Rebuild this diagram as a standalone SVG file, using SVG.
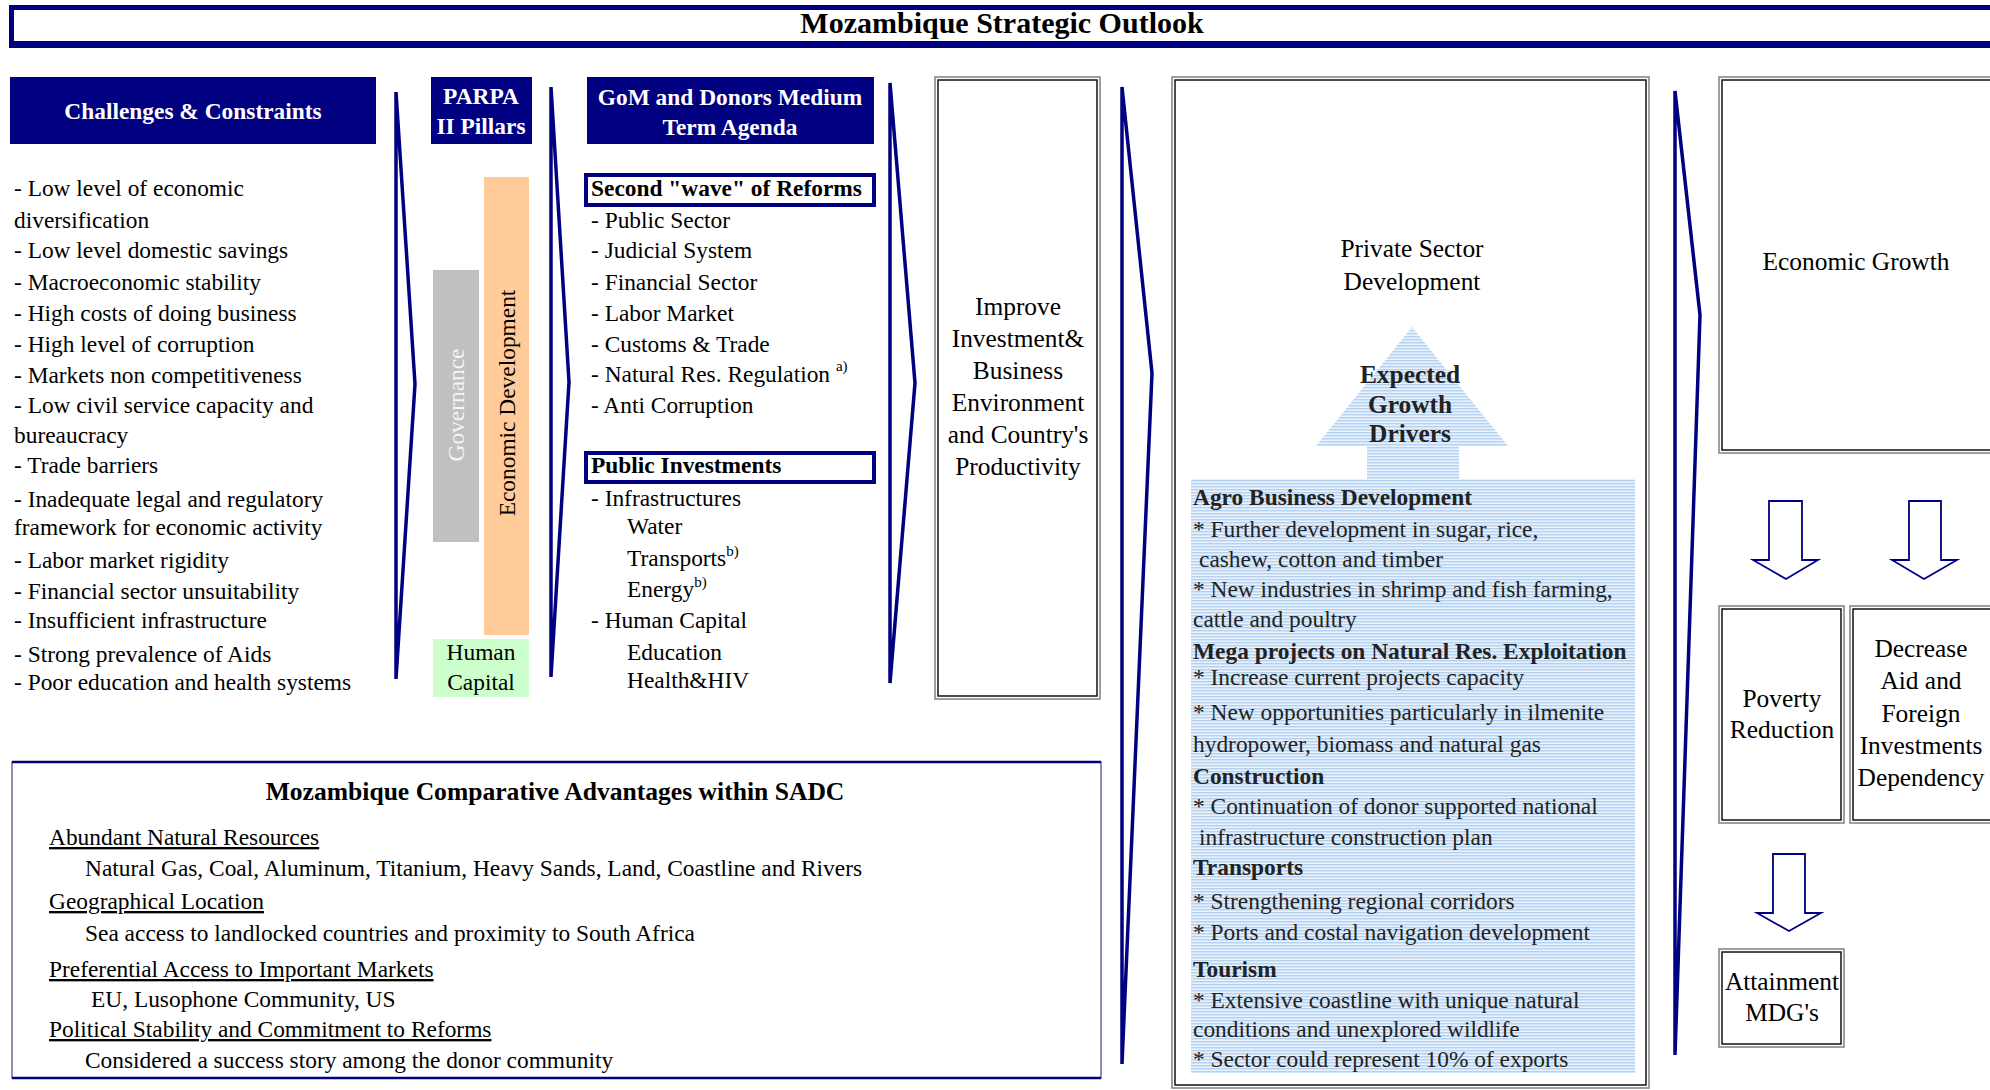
<svg xmlns="http://www.w3.org/2000/svg" width="1990" height="1090" viewBox="0 0 1990 1090">
<style>
.t{font-family:"Liberation Serif","Times New Roman",serif;font-size:23.4px;fill:#000}
.L{font-size:25.4px}
.b{font-weight:bold}
.w{fill:#fff}
.c{text-anchor:middle}
.g{fill:#222}
.u{text-decoration:underline}
.sup{font-size:15px}
.hdr{fill:#000080}
.chev{fill:none;stroke:#000080;stroke-width:3.5;stroke-linejoin:miter;stroke-miterlimit:3}
.bo{fill:#fff;stroke:#808080;stroke-width:1.5}
.bi{fill:none;stroke:#111;stroke-width:1.5}
.sub{fill:#fff;stroke:#000080;stroke-width:4}
.arr{fill:#fff;stroke:#000080;stroke-width:1.8;stroke-linejoin:miter}
</style>
<defs>
<pattern id="stripes" width="3" height="3" patternUnits="userSpaceOnUse">
<rect width="3" height="3" fill="#E9F2FC"/>
<rect width="3" height="1.4" fill="#B3D1F1"/>
</pattern>
</defs>
<rect width="1990" height="1090" fill="#fff"/>

<g id="title">
<rect x="9" y="5" width="1990" height="43" fill="#000080"/>
<rect x="14" y="10" width="1990" height="31" fill="#fff"/>
<text class="t b c" x="1002" y="33" style="font-size:30px">Mozambique Strategic Outlook</text>
</g>

<g id="challenges">
<rect class="hdr" x="10" y="77" width="366" height="67"/>
<text class="t b w c" x="193" y="119">Challenges &amp; Constraints</text>
<text class="t" x="14" y="196">- Low level of economic</text>
<text class="t" x="14" y="228">diversification</text>
<text class="t" x="14" y="258">- Low level domestic savings</text>
<text class="t" x="14" y="290">- Macroeconomic stability</text>
<text class="t" x="14" y="321">- High costs of doing business</text>
<text class="t" x="14" y="352">- High level of corruption</text>
<text class="t" x="14" y="383">- Markets non competitiveness</text>
<text class="t" x="14" y="413">- Low civil service capacity and</text>
<text class="t" x="14" y="443">bureaucracy</text>
<text class="t" x="14" y="473">- Trade barriers</text>
<text class="t" x="14" y="507">- Inadequate legal and regulatory</text>
<text class="t" x="14" y="535">framework for economic activity</text>
<text class="t" x="14" y="568">- Labor market rigidity</text>
<text class="t" x="14" y="599">- Financial sector unsuitability</text>
<text class="t" x="14" y="628">- Insufficient infrastructure</text>
<text class="t" x="14" y="662">- Strong prevalence of Aids</text>
<text class="t" x="14" y="690">- Poor education and health systems</text>
</g>

<g id="parpa">
<rect class="hdr" x="431" y="77" width="101" height="67"/>
<text class="t b w c" x="481" y="104">PARPA</text>
<text class="t b w c" x="481" y="134">II Pillars</text>
<rect x="433" y="270" width="46" height="272" fill="#C0C0C0"/>
<text class="t c" style="fill:#F4F4F4" transform="translate(464,405) rotate(-90)">Governance</text>
<rect x="484" y="177" width="45" height="458" fill="#FFCC99"/>
<text class="t c" transform="translate(515,403) rotate(-90)">Economic Development</text>
<rect x="433" y="639" width="96" height="58" fill="#CCFFCC"/>
<text class="t c" x="481" y="660">Human</text>
<text class="t c" x="481" y="690">Capital</text>
</g>

<g id="agenda">
<rect class="hdr" x="587" y="77" width="287" height="67"/>
<text class="t b w c" x="730" y="105">GoM and Donors Medium</text>
<text class="t b w c" x="730" y="135">Term Agenda</text>
<rect class="sub" x="586" y="175" width="288" height="30"/>
<text class="t b" x="591" y="196">Second "wave" of Reforms</text>
<text class="t" x="591" y="228">- Public Sector</text>
<text class="t" x="591" y="258">- Judicial System</text>
<text class="t" x="591" y="290">- Financial Sector</text>
<text class="t" x="591" y="321">- Labor Market</text>
<text class="t" x="591" y="352">- Customs &amp; Trade</text>
<text class="t" x="591" y="382">- Natural Res. Regulation <tspan class="sup" dy="-11">a)</tspan></text>
<text class="t" x="591" y="413">- Anti Corruption</text>
<rect class="sub" x="586" y="453" width="288" height="29"/>
<text class="t b" x="591" y="473">Public Investments</text>
<text class="t" x="591" y="506">- Infrastructures</text>
<text class="t" x="627" y="534">Water</text>
<text class="t" x="627" y="566">Transports<tspan class="sup" dy="-10">b)</tspan></text>
<text class="t" x="627" y="597">Energy<tspan class="sup" dy="-10">b)</tspan></text>
<text class="t" x="591" y="628">- Human Capital</text>
<text class="t" x="627" y="660">Education</text>
<text class="t" x="627" y="688">Health&amp;HIV</text>
</g>

<g id="improve">
<rect class="bo" x="935" y="77" width="165" height="622"/>
<rect class="bi" x="938" y="80" width="159" height="616"/>
<text class="t L c" x="1018" y="315">Improve</text>
<text class="t L c" x="1018" y="347">Investment&amp;</text>
<text class="t L c" x="1018" y="379">Business</text>
<text class="t L c" x="1018" y="411">Environment</text>
<text class="t L c" x="1018" y="443">and Country's</text>
<text class="t L c" x="1018" y="475">Productivity</text>
</g>

<g id="private">
<rect class="bo" x="1172" y="77" width="477" height="1011"/>
<rect class="bi" x="1175" y="80" width="471" height="1005"/>
<text class="t L c" x="1412" y="257">Private Sector</text>
<text class="t L c" x="1412" y="290">Development</text>
<path d="M1412,327 L1508,446 H1459 V479 H1635 V1073 H1191 V479 H1367 V446 H1316 Z" fill="url(#stripes)"/>
<text class="t L b c g" x="1410" y="383">Expected</text>
<text class="t L b c g" x="1410" y="413">Growth</text>
<text class="t L b c g" x="1410" y="442">Drivers</text>
<text class="t b g" x="1193" y="505">Agro Business Development</text>
<text class="t g" x="1193" y="537">* Further development in sugar, rice,</text>
<text class="t g" x="1199" y="567">cashew, cotton and timber</text>
<text class="t g" x="1193" y="597">* New industries in shrimp and fish farming,</text>
<text class="t g" x="1193" y="627">cattle and poultry</text>
<text class="t b g" x="1193" y="659">Mega projects on Natural Res. Exploitation</text>
<text class="t g" x="1193" y="685">* Increase current projects capacity</text>
<text class="t g" x="1193" y="720">* New opportunities particularly in ilmenite</text>
<text class="t g" x="1193" y="752">hydropower, biomass and natural gas</text>
<text class="t b g" x="1193" y="784">Construction</text>
<text class="t g" x="1193" y="814">* Continuation of donor supported national</text>
<text class="t g" x="1199" y="845">infrastructure construction plan</text>
<text class="t b g" x="1193" y="875">Transports</text>
<text class="t g" x="1193" y="909">* Strengthening regional corridors</text>
<text class="t g" x="1193" y="940">* Ports and costal navigation development</text>
<text class="t b g" x="1193" y="977">Tourism</text>
<text class="t g" x="1193" y="1008">* Extensive coastline with unique natural</text>
<text class="t g" x="1193" y="1037">conditions and unexplored wildlife</text>
<text class="t g" x="1193" y="1067">* Sector could represent 10% of exports</text>
</g>

<g id="growth">
<rect class="bo" x="1719" y="77" width="290" height="376"/>
<rect class="bi" x="1722" y="80" width="284" height="370"/>
<text class="t L c" x="1856" y="270">Economic Growth</text>
</g>

<g id="poverty">
<rect class="bo" x="1719" y="606" width="125" height="217"/>
<rect class="bi" x="1722" y="609" width="119" height="211"/>
<text class="t L c" x="1782" y="707">Poverty</text>
<text class="t L c" x="1782" y="738">Reduction</text>
</g>

<g id="decrease">
<rect class="bo" x="1850" y="606" width="160" height="217"/>
<rect class="bi" x="1853" y="609" width="154" height="211"/>
<text class="t L c" x="1921" y="657">Decrease</text>
<text class="t L c" x="1921" y="689">Aid and</text>
<text class="t L c" x="1921" y="722">Foreign</text>
<text class="t L c" x="1921" y="754">Investments</text>
<text class="t L c" x="1921" y="786">Dependency</text>
</g>

<g id="mdg">
<rect class="bo" x="1719" y="949" width="125" height="98"/>
<rect class="bi" x="1722" y="952" width="119" height="92"/>
<text class="t L c" x="1782" y="990">Attainment</text>
<text class="t L c" x="1782" y="1021">MDG's</text>
</g>

<g id="advantages">
<rect x="12" y="762" width="1089" height="316" fill="#fff" stroke="#6A6AA8" stroke-width="1.5"/>
<line x1="12" y1="762" x2="1101" y2="762" stroke="#000080" stroke-width="2.5"/>
<line x1="12" y1="1078" x2="1101" y2="1078" stroke="#000080" stroke-width="2.5"/>
<text class="t b c" x="555" y="800" style="font-size:25.6px">Mozambique Comparative Advantages within SADC</text>
<text class="t u" x="49" y="845">Abundant Natural Resources</text>
<text class="t" x="85" y="876">Natural Gas, Coal, Aluminum, Titanium, Heavy Sands, Land, Coastline and Rivers</text>
<text class="t u" x="49" y="909">Geographical Location</text>
<text class="t" x="85" y="941">Sea access to landlocked countries and proximity to South Africa</text>
<text class="t u" x="49" y="977">Preferential Access to Important Markets</text>
<text class="t" x="91" y="1007">EU, Lusophone Community, US</text>
<text class="t u" x="49" y="1037">Political Stability and Commitment to Reforms</text>
<text class="t" x="85" y="1068">Considered a success story among the donor community</text>
</g>

<g id="connectors">
<polygon class="chev" points="396,92 415,384 396,679"/>
<polygon class="chev" points="551,87 569,382 551,677"/>
<polygon class="chev" points="890,83 915,383 890,683"/>
<polygon class="chev" points="1122,87 1152,373 1122,1064"/>
<polygon class="chev" points="1675,91 1700,315 1675,1055"/>
<path class="arr" d="M1769,501 H1802 V560 H1818 L1786,579 L1753,560 H1769 Z"/>
<path class="arr" d="M1909,501 H1941 V560 H1957 L1924,579 L1892,560 H1909 Z"/>
<path class="arr" d="M1773,854 H1805 V913 H1821 L1789,931 L1757,913 H1773 Z"/>
</g>
</svg>
